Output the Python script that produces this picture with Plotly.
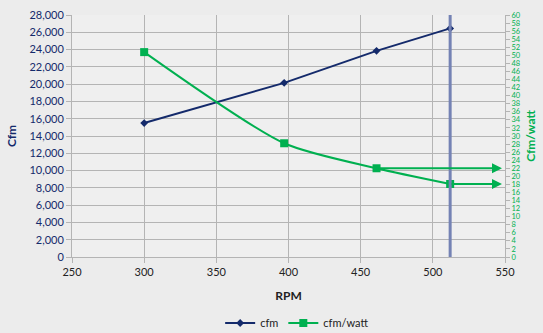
import plotly.graph_objects as go

# Fan performance by speed
rpm = [300, 397, 461, 512]
cfm = [15500, 20150, 23850, 26450]
cfm_per_watt = [50.8, 28.2, 22.0, 18.1]

navy = "#142a6b"
green = "#00b050"
grid = "#b4b4b4"
font_family = "Lato, 'Open Sans', sans-serif"

fig = go.Figure()

fig.add_trace(go.Scatter(
    x=rpm, y=cfm, name="cfm", mode="lines+markers",
    line=dict(color=navy, width=2),
    marker=dict(symbol="diamond", size=6, color=navy),
))
fig.add_trace(go.Scatter(
    x=rpm, y=cfm_per_watt, name="cfm/watt", mode="lines+markers", yaxis="y2",
    line=dict(color=green, width=2, shape="spline", smoothing=0.7),
    marker=dict(symbol="square", size=8, color=green),
))

# Operating speed marker
fig.add_shape(type="line", xref="x", yref="paper",
              x0=rpm[-1], x1=rpm[-1], y0=0, y1=1,
              line=dict(color="#7482b4", width=3))

# Arrows projecting the last two efficiency points onto the right axis
for xv, yv in zip(rpm[2:], cfm_per_watt[2:]):
    fig.add_annotation(x=550, y=yv, ax=xv, ay=yv, xref="x", yref="y2",
                       axref="x", ayref="y2", text="", showarrow=True,
                       arrowhead=2, arrowsize=1.0, arrowwidth=2,
                       arrowcolor=green, standoff=3)

fig.update_layout(
    width=543, height=333,
    margin=dict(l=72, r=38, t=15, b=76, autoexpand=False),
    paper_bgcolor="#ececec",
    plot_bgcolor="#efefef",
    font=dict(family=font_family, size=11, color="#222222"),
    showlegend=True,
    legend=dict(orientation="h", x=0.52, xanchor="center",
                y=0.03, yanchor="middle", yref="container",
                font=dict(size=11, color="#222222"), bgcolor="rgba(0,0,0,0)",
                itemwidth=30, tracegroupgap=0),
    xaxis=dict(
        range=[250, 550], dtick=50, tick0=250, automargin=False,
        showgrid=True, gridcolor=grid, gridwidth=1,
        showline=True, linecolor=grid, ticks="outside", ticklen=5,
        tickcolor=grid, zeroline=False,
        tickfont=dict(size=11, color="#222222"),
        title=dict(text="<b>RPM</b>", font=dict(size=12, color="#222222"), standoff=14),
    ),
    yaxis=dict(
        range=[0, 28000], dtick=2000, tickformat=",d", automargin=False,
        showgrid=True, gridcolor=grid, gridwidth=1,
        showline=True, linecolor=grid, ticks="outside", ticklen=5,
        tickcolor=grid, zeroline=False,
        tickfont=dict(size=11, color=navy),
        title=dict(text="<b>Cfm</b>", font=dict(size=12, color=navy), standoff=10),
    ),
    yaxis2=dict(
        range=[0, 60], dtick=2, overlaying="y", side="right", automargin=False,
        showgrid=False, showline=True, linecolor=grid, ticks="outside",
        ticklen=4, tickcolor=grid, zeroline=False,
        tickfont=dict(size=7.5, color=green),
        title=dict(text="<b>Cfm/watt</b>", font=dict(size=12, color=green), standoff=6),
    ),
)

fig.write_html("out.html")
